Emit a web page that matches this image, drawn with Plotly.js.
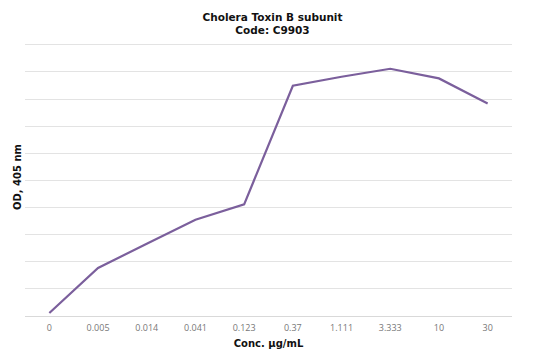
<!DOCTYPE html>
<html>
<head>
<meta charset="utf-8">
<script src="https://cdn.plot.ly/plotly-3.0.1.min.js"></script>
<style>html,body{margin:0;padding:0;background:#fff}#chart{width:545px;height:360px}</style>
</head>
<body>
<div id="chart"></div>
<script>
const concentrations = ["0", "0.005", "0.014", "0.041", "0.123", "0.37", "1.111", "3.333", "10", "30"];
const odValues = [0.022, 0.354, 0.533, 0.71, 0.823, 1.698, 1.764, 1.823, 1.752, 1.567];
const gridTicks = [0, 0.2, 0.4, 0.6, 0.8, 1.0, 1.2, 1.4, 1.6, 1.8, 2.0];

const trace = {
  x: concentrations,
  y: odValues,
  type: "scatter",
  mode: "lines",
  line: {color: "#7b5f9c", width: 2.2},
  hoverinfo: "skip"
};

const layout = {
  width: 545,
  height: 360,
  margin: {l: 25, r: 33, t: 38, b: 44},
  paper_bgcolor: "#fff",
  plot_bgcolor: "#fff",
  showlegend: false,
  title: {
    text: "<b>Cholera Toxin B subunit<br>Code: C9903</b>",
    font: {family: "DejaVu Sans", size: 10.5, color: "#111"},
    x: 0.5, xanchor: "center",
    y: 0.943, yanchor: "top"
  },
  xaxis: {
    type: "category",
    range: [-0.5, 9.5],
    showgrid: false,
    showline: false,
    zeroline: false,
    ticks: "",
    ticklabelstandoff: 5,
    tickfont: {family: "Open Sans", size: 9, color: "#777"},
    title: {text: "<b>Conc. µg/mL</b>", font: {family: "DejaVu Sans", size: 10, color: "#111"}, standoff: 6},
    automargin: false
  },
  yaxis: {
    range: [0, 2.05],
    tickmode: "array",
    tickvals: gridTicks,
    showticklabels: false,
    showgrid: true,
    gridcolor: "#e3e3e3",
    gridwidth: 1,
    zeroline: true,
    zerolinecolor: "#d9d9d9",
    zerolinewidth: 1,
    showline: false,
    ticks: "",
    title: {text: "<b>OD, 405 nm</b>", font: {family: "DejaVu Sans", size: 10, color: "#111"}, standoff: 0},
    automargin: false
  }
};

Plotly.newPlot("chart", [trace], layout, {displayModeBar: false, staticPlot: true});
</script>
</body>
</html>
